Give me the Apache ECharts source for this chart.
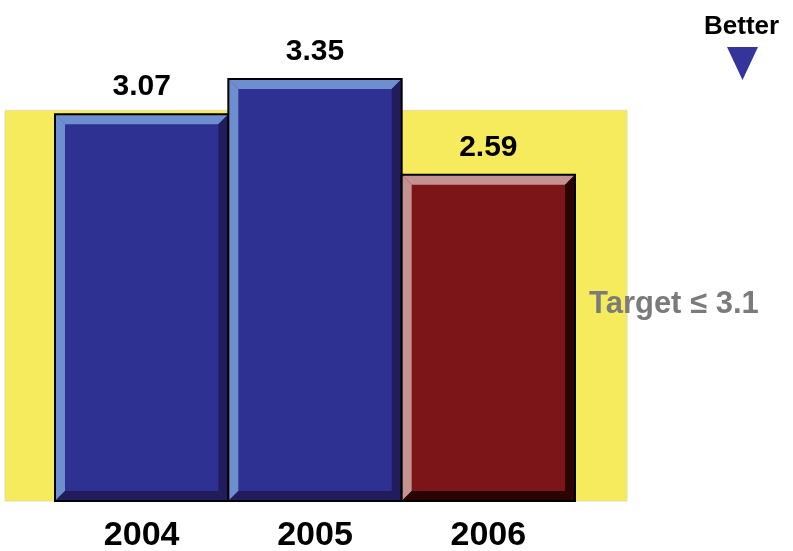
<!DOCTYPE html>
<html>
<head>
<meta charset="utf-8">
<script src="https://cdn.jsdelivr.net/npm/echarts@6/dist/echarts.min.js"></script>
<style>
  html, body { margin: 0; padding: 0; background: #fff; }
  #main { width: 793px; height: 551px; }
</style>
</head>
<body>
<div id="main"></div>
<script>
// data
var years = ['2004', '2005', '2006'];
var values = [3.07, 3.35, 2.59];
var target = 3.1;
var targetLabel = 'Target \u2264 3.1';

var FONT = '"Liberation Sans", Arial, Helvetica, sans-serif';

// bevel colours: face, light edge (top/left), dark edge (bottom/right)
var bluePal = { face: '#2e3192', light: '#6e8fcf', dark: '#211d5c' };
var redPal = { face: '#7b1517', light: '#c49391', dark: '#2a0303' };

function renderBar(params, api) {
  var idx = api.value(0);
  var val = api.value(1);
  var top = api.coord([idx, val]);
  var base = api.coord([idx, 0]);
  var w = api.size([1, 0])[0];
  var x0 = top[0] - w / 2, x1 = top[0] + w / 2;
  var y0 = top[1], y1 = base[1];
  var b = 10;
  var pal = idx === values.length - 1 ? redPal : bluePal;
  return {
    type: 'group',
    children: [
      { type: 'rect', shape: { x: x0, y: y0, width: w, height: y1 - y0 }, style: { fill: pal.face } },
      { type: 'polygon', shape: { points: [[x0, y0], [x1, y0], [x1 - b, y0 + b], [x0 + b, y0 + b]] }, style: { fill: pal.light } },
      { type: 'polygon', shape: { points: [[x0, y0], [x0 + b, y0 + b], [x0 + b, y1 - b], [x0, y1]] }, style: { fill: pal.light } },
      { type: 'polygon', shape: { points: [[x1, y0], [x1, y1], [x1 - b, y1 - b], [x1 - b, y0 + b]] }, style: { fill: pal.dark } },
      { type: 'polygon', shape: { points: [[x0, y1], [x1, y1], [x1 - b, y1 - b], [x0 + b, y1 - b]] }, style: { fill: pal.dark } },
      { type: 'rect', shape: { x: x0, y: y0, width: w, height: y1 - y0 }, style: { fill: 'none', stroke: '#000', lineWidth: 2 } },
      {
        type: 'text',
        style: {
          text: val.toFixed(2), x: top[0], y: y0 - 12,
          align: 'center', verticalAlign: 'bottom',
          font: 'bold 30px ' + FONT, fill: '#000'
        }
      }
    ]
  };
}

// yellow target band 0..target, wider than the bars
function renderBand(params, api) {
  var cs = params.coordSys;
  var yTop = api.coord([0, api.value(0)])[1];
  var yBot = api.coord([0, 0])[1];
  return {
    type: 'rect',
    shape: { x: cs.x - 50, y: yTop, width: cs.width + 102, height: yBot - yTop },
    style: { fill: '#f6eb5c', stroke: '#e6dca0', lineWidth: 1 }
  };
}

var chart = echarts.init(document.getElementById('main'));
var option = {
  animation: false,
  grid: { left: 55, right: 218, top: 60, bottom: 50, containLabel: false, outerBoundsMode: 'none' },
  xAxis: {
    type: 'category',
    data: years,
    axisLine: { show: false },
    axisTick: { show: false },
    axisLabel: { margin: 18, fontSize: 34, fontWeight: 'bold', color: '#000', fontFamily: FONT }
  },
  yAxis: {
    type: 'value',
    min: 0,
    max: 3.5,
    show: false,
    splitLine: { show: false }
  },
  series: [
    {
      type: 'custom',
      renderItem: renderBand,
      clip: false,
      z: 1,
      encode: { y: 0 },
      data: [[target]]
    },
    {
      type: 'custom',
      renderItem: renderBar,
      clip: false,
      z: 2,
      encode: { x: 0, y: 1 },
      data: values.map(function (v, i) { return [i, v]; })
    }
  ],
  graphic: [
    {
      type: 'text', left: 589, top: 289, z: 100,
      style: { text: targetLabel, font: 'bold 31px ' + FONT, fill: '#7b7b7b' }
    },
    {
      type: 'text', left: 704, top: 14, z: 100,
      style: { text: 'Better', font: 'bold 26px ' + FONT, fill: '#000' }
    },
    {
      type: 'polygon', z: 100,
      shape: { points: [[727, 47], [758, 47], [742.5, 80]] },
      style: { fill: '#34349a' }
    }
  ]
};
chart.setOption(option);
</script>
</body>
</html>
